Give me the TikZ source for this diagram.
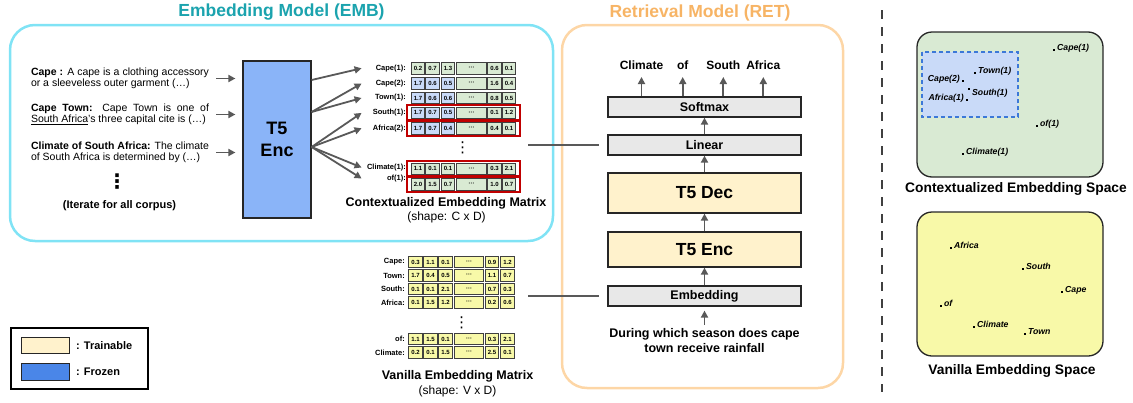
\documentclass[tikz,border=0pt]{standalone}
\usepackage{fontspec}
\setmainfont{Liberation Sans}
\newfontfamily\symfont{DejaVu Sans}
\usetikzlibrary{arrows.meta}
\newcommand{\cw}{13.5pt}
\newcommand{\dw}{29.5pt}
\definecolor{embcyan}{HTML}{80E3F5}
\definecolor{embteal}{HTML}{1BA3AE}
\definecolor{retorange}{HTML}{F7B465}
\definecolor{retpeach}{HTML}{FDD6A6}
\definecolor{trainyellow}{HTML}{FFF2CC}
\definecolor{frozenblue}{HTML}{4A86E8}
\definecolor{encblue}{HTML}{8AB4F8}
\definecolor{ctxgreen}{HTML}{D9EAD3}
\definecolor{ctxblue}{HTML}{C9DAF8}
\definecolor{vanyellow}{HTML}{F8F9A8}
\definecolor{layergray}{HTML}{E8E8E8}
\definecolor{arrowgray}{HTML}{595959}
\definecolor{boxred}{HTML}{C00000}
\definecolor{areablue}{HTML}{3C78D8}

\begin{document}
\begin{tikzpicture}[x=1pt, y=-1pt,
    panel/.style={rounded corners=25pt, line width=2.5pt},
    heading/.style={font=\bfseries\fontsize{17.5}{20}\selectfont},
    desc/.style={text width=178pt, align=justify, inner sep=0pt, font=\fontsize{10.5}{11.5}\selectfont},
    arr/.style={draw=arrowgray, line width=1.8pt, -{Triangle[length=7pt, width=7pt]}},
    tolayer/.style={draw=arrowgray, line width=1.5pt, shorten >=8pt},
    frozen/.style={draw=black!85, line width=1.2pt, fill=encblue, minimum width=68pt, minimum height=157pt, align=center, font=\bfseries\fontsize{18}{22}\selectfont},
    glayer/.style={draw=black!85, line width=1.2pt, fill=layergray, minimum width=193pt, minimum height=20pt, inner sep=0pt, font=\bfseries\fontsize{12.5}{14}\selectfont},
    tlayer/.style={glayer, fill=trainyellow, font=\bfseries\fontsize{17.5}{20}\selectfont},
    mlabel/.style={anchor=east, text width=44pt, align=right, inner sep=0pt, font=\bfseries\fontsize{7.5}{9}\selectfont},
    cell/.style={draw=black!75, line width=0.6pt, minimum width=\cw, minimum height=11.5pt, inner sep=0pt, font=\bfseries\fontsize{6}{7}\selectfont},
    gcell/.style={cell, fill=ctxgreen},
    bcell/.style={cell, fill=ctxblue},
    ycell/.style={cell, fill=vanyellow},
    dotcell/.style={minimum width=\dw},
    redbox/.style={draw=boxred, line width=2pt},
    vdots/.style={inner sep=0pt, font=\symfont\fontsize{15}{15}\selectfont},
    mcaption/.style={font=\bfseries\fontsize{12.5}{14}\selectfont},
    mshape/.style={font=\fontsize{12}{14}\selectfont},
    outword/.style={anchor=base, inner sep=0pt, font=\bfseries\fontsize{12}{14}\selectfont},
    espace/.style={draw=black!85, line width=1.3pt, rounded corners=15pt},
    dotpt/.style={fill=black, inner sep=0pt, minimum size=2.5pt},
    ptlabel/.style={inner sep=0pt, font=\bfseries\itshape\fontsize{8.7}{10}\selectfont},
    label distance=1.5pt,
    keytxt/.style={anchor=west, inner sep=0pt, font=\bfseries\fontsize{11}{13}\selectfont}]
    \useasboundingbox (0,0) rectangle (1133,402);

    % Frames
    \draw[panel, draw=embcyan] (10,25) rectangle (553,241);
    \draw[panel, draw=retpeach] (562,25) rectangle (843,388);
    \node[heading, text=embteal] (emb-title) at (281.5,12.5) {Embedding Model (EMB)};
    \node[heading, text=retorange] (ret-title) at (700,12.5) {Retrieval Model (RET)};

    % Corpus
    \node[desc] (desc-cape) at (120,78.5) {\textbf{Cape :} A cape is a clothing accessory\linebreak or a sleeveless outer garment (…)};
    \node[desc] (desc-town) at (120,114.5) {\textbf{Cape Town:} Cape Town is one of\linebreak \underline{South Africa}'s three capital cite is (…)};
    \node[desc] (desc-climate) at (120,152.5) {\textbf{Climate of South Africa:} The climate\linebreak of South Africa is determined by (…)};
    \node[vdots, font=\symfont\bfseries\fontsize{20}{20}\selectfont] (desc-more) at (117,181.5) {⋮};
    \node[font=\bfseries\fontsize{11}{13}\selectfont] (desc-iter) at (119.5,206) {(Iterate for all corpus)};

    \node[frozen] (emb-enc) at (277,139.5) {T5\\Enc};
    \draw[arr, shorten <=7pt, shorten >=7pt] (desc-cape.east) -- (desc-cape.east -| emb-enc.west);
    \draw[arr, shorten <=7pt, shorten >=7pt] (desc-town.east) -- (desc-town.east -| emb-enc.west);
    \draw[arr, shorten <=7pt, shorten >=7pt] (desc-climate.east) -- (desc-climate.east -| emb-enc.west);

    % Contextualized embedding matrix
    \node[mlabel] (ctx-lab-1) at (406,68.3) {Cape(1):};
    \node[gcell] (ctx-1-1) at (418,68.3) {0.2};
    \node[gcell] (ctx-1-2) at (432.5,68.3) {0.7};
    \node[gcell] (ctx-1-3) at (448,68.3) {1.3};
    \node[gcell, dotcell] (ctx-1-4) at (471.5,68.3) {···};
    \node[gcell] (ctx-1-5) at (494.5,68.3) {0.6};
    \node[gcell] (ctx-1-6) at (509,68.3) {0.1};

    \node[mlabel] (ctx-lab-2) at (406,83.5) {Cape(2):};
    \node[bcell] (ctx-2-1) at (418,83.5) {1.7};
    \node[bcell] (ctx-2-2) at (432.5,83.5) {0.6};
    \node[bcell] (ctx-2-3) at (448,83.5) {0.5};
    \node[gcell, dotcell] (ctx-2-4) at (471.5,83.5) {···};
    \node[gcell] (ctx-2-5) at (494.5,83.5) {1.6};
    \node[gcell] (ctx-2-6) at (509,83.5) {0.4};

    \node[mlabel] (ctx-lab-3) at (406,98) {Town(1):};
    \node[bcell] (ctx-3-1) at (418,98) {1.7};
    \node[bcell] (ctx-3-2) at (432.5,98) {0.6};
    \node[bcell] (ctx-3-3) at (448,98) {0.6};
    \node[gcell, dotcell] (ctx-3-4) at (471.5,98) {···};
    \node[gcell] (ctx-3-5) at (494.5,98) {0.8};
    \node[gcell] (ctx-3-6) at (509,98) {0.5};

    \node[mlabel] (ctx-lab-4) at (406,112.9) {South(1):};
    \node[bcell] (ctx-4-1) at (418,112.9) {1.7};
    \node[bcell] (ctx-4-2) at (432.5,112.9) {0.7};
    \node[bcell] (ctx-4-3) at (448,112.9) {0.5};
    \node[gcell, dotcell] (ctx-4-4) at (471.5,112.9) {···};
    \node[gcell] (ctx-4-5) at (494.5,112.9) {0.1};
    \node[gcell] (ctx-4-6) at (509,112.9) {1.2};

    \node[mlabel] (ctx-lab-5) at (406,128.3) {Africa(2):};
    \node[bcell] (ctx-5-1) at (418,128.3) {1.7};
    \node[bcell] (ctx-5-2) at (432.5,128.3) {0.7};
    \node[bcell] (ctx-5-3) at (448,128.3) {0.4};
    \node[gcell, dotcell] (ctx-5-4) at (471.5,128.3) {···};
    \node[gcell] (ctx-5-5) at (494.5,128.3) {0.4};
    \node[gcell] (ctx-5-6) at (509,128.3) {0.1};

    \node[vdots] (ctx-more) at (462.7,147.5) {⋮};

    \node[mlabel] (ctx-lab-6) at (406,167.5) {Climate(1):};
    \node[gcell] (ctx-6-1) at (418,168.9) {1.1};
    \node[gcell] (ctx-6-2) at (432.5,168.9) {0.1};
    \node[gcell] (ctx-6-3) at (448,168.9) {0.1};
    \node[gcell, dotcell] (ctx-6-4) at (471.5,168.9) {···};
    \node[gcell] (ctx-6-5) at (494.5,168.9) {0.3};
    \node[gcell] (ctx-6-6) at (509,168.9) {2.1};

    \node[mlabel] (ctx-lab-7) at (406,178.5) {of(1):};
    \node[gcell] (ctx-7-1) at (418,184.2) {2.0};
    \node[gcell] (ctx-7-2) at (432.5,184.2) {1.5};
    \node[gcell] (ctx-7-3) at (448,184.2) {0.7};
    \node[gcell, dotcell] (ctx-7-4) at (471.5,184.2) {···};
    \node[gcell] (ctx-7-5) at (494.5,184.2) {1.0};
    \node[gcell] (ctx-7-6) at (509,184.2) {0.7};

    \draw[redbox] ([xshift=-3.5pt,yshift=2pt]ctx-4-1.north west) rectangle ([xshift=3.5pt,yshift=-2pt]ctx-4-6.south east);
    \draw[redbox] ([xshift=-3.5pt,yshift=2pt]ctx-5-1.north west) rectangle ([xshift=3.5pt,yshift=-2pt]ctx-5-6.south east);
    \draw[redbox] ([xshift=-3.5pt,yshift=2pt]ctx-6-1.north west) rectangle ([xshift=3.5pt,yshift=-2pt]ctx-6-6.south east);
    \draw[redbox] ([xshift=-3.5pt,yshift=2pt]ctx-7-1.north west) rectangle ([xshift=3.5pt,yshift=-2pt]ctx-7-6.south east);

    \node[mcaption] (ctx-title) at (446,203) {Contextualized Embedding Matrix};
    \node[mshape] (ctx-shape) at (446.5,217) {(shape: C x D)};

    \draw[arr] ([yshift=59.5pt]emb-enc.east) -- (ctx-lab-1.west);
    \draw[arr] ([yshift=27.5pt]emb-enc.east) -- (ctx-lab-2.west);
    \draw[arr] ([yshift=27.5pt]emb-enc.east) -- (ctx-lab-3.west);
    \draw[arr] ([yshift=-7.5pt]emb-enc.east) -- (ctx-lab-4.west);
    \draw[arr] ([yshift=-7.5pt]emb-enc.east) -- (ctx-lab-5.west);
    \draw[arr] ([yshift=-7.5pt]emb-enc.east) -- (ctx-lab-6.west);
    \draw[arr] ([yshift=-7.5pt]emb-enc.east) -- (ctx-lab-7.west);

    % Vanilla embedding matrix
    \node[mlabel] (van-lab-1) at (405,262) {Cape:};
    \node[ycell] (van-1-1) at (415.5,262) {0.3};
    \node[ycell] (van-1-2) at (430.5,262) {1.1};
    \node[ycell] (van-1-3) at (445.5,262) {0.1};
    \node[ycell, dotcell] (van-1-4) at (469,262) {···};
    \node[ycell] (van-1-5) at (492,262) {0.9};
    \node[ycell] (van-1-6) at (507.5,262) {1.2};

    \node[mlabel] (van-lab-2) at (405,275.5) {Town:};
    \node[ycell] (van-2-1) at (415.5,275.5) {1.7};
    \node[ycell] (van-2-2) at (430.5,275.5) {0.4};
    \node[ycell] (van-2-3) at (445.5,275.5) {0.5};
    \node[ycell, dotcell] (van-2-4) at (469,275.5) {···};
    \node[ycell] (van-2-5) at (492,275.5) {1.1};
    \node[ycell] (van-2-6) at (507.5,275.5) {0.7};

    \node[mlabel] (van-lab-3) at (405,289) {South:};
    \node[ycell] (van-3-1) at (415.5,289) {0.1};
    \node[ycell] (van-3-2) at (430.5,289) {0.1};
    \node[ycell] (van-3-3) at (445.5,289) {2.1};
    \node[ycell, dotcell] (van-3-4) at (469,289) {···};
    \node[ycell] (van-3-5) at (492,289) {0.7};
    \node[ycell] (van-3-6) at (507.5,289) {0.3};

    \node[mlabel] (van-lab-4) at (405,302.5) {Africa:};
    \node[ycell] (van-4-1) at (415.5,302.5) {0.1};
    \node[ycell] (van-4-2) at (430.5,302.5) {1.5};
    \node[ycell] (van-4-3) at (445.5,302.5) {1.2};
    \node[ycell, dotcell] (van-4-4) at (469,302.5) {···};
    \node[ycell] (van-4-5) at (492,302.5) {0.2};
    \node[ycell] (van-4-6) at (507.5,302.5) {0.6};

    \node[vdots] (van-more) at (461.7,323) {⋮};

    \node[mlabel] (van-lab-5) at (405,339) {of:};
    \node[ycell] (van-5-1) at (415.5,339) {1.1};
    \node[ycell] (van-5-2) at (430.5,339) {1.5};
    \node[ycell] (van-5-3) at (445.5,339) {0.1};
    \node[ycell, dotcell] (van-5-4) at (469,339) {···};
    \node[ycell] (van-5-5) at (492,339) {0.3};
    \node[ycell] (van-5-6) at (507.5,339) {2.1};

    \node[mlabel] (van-lab-6) at (405,352.5) {Climate:};
    \node[ycell] (van-6-1) at (415.5,352.5) {0.2};
    \node[ycell] (van-6-2) at (430.5,352.5) {0.1};
    \node[ycell] (van-6-3) at (445.5,352.5) {1.5};
    \node[ycell, dotcell] (van-6-4) at (469,352.5) {···};
    \node[ycell] (van-6-5) at (492,352.5) {2.5};
    \node[ycell] (van-6-6) at (507.5,352.5) {0.1};

    \node[mcaption] (van-title) at (457.5,376) {Vanilla Embedding Matrix};
    \node[mshape] (van-shape) at (457.5,391.5) {(shape: V x D)};

    % Retrieval model
    \node[glayer] (ret-softmax) at (704.5,107) {Softmax};
    \node[glayer] (ret-linear) at (704.5,145) {Linear};
    \node[tlayer, minimum height=40pt] (ret-dec) at (704.5,193) {T5 Dec};
    \node[tlayer, minimum height=35pt] (ret-enc) at (704.5,249.5) {T5 Enc};
    \node[glayer] (ret-emb) at (704.5,296) {Embedding};
    \node[align=center, font=\bfseries\fontsize{12.5}{15}\selectfont] (ret-input) at (704.5,340.5) {During which season does cape\\town receive rainfall};

    \draw[arr, shorten >=4pt] (ret-input) -- (ret-emb);
    \draw[arr] (ret-emb) -- (ret-enc);
    \draw[arr] (ret-enc) -- (ret-dec);
    \draw[arr] (ret-dec) -- (ret-linear);
    \draw[arr] (ret-linear) -- (ret-softmax);

    \node[outword] (out-climate) at (641.5,69) {Climate};
    \node[outword] (out-of) at (682.7,69) {of};
    \node[outword] (out-south) at (723.3,69) {South};
    \node[outword] (out-africa) at (763.3,69) {Africa};
    \draw[arr, shorten >=8pt] (out-climate |- ret-softmax.north) -- (out-climate.base);
    \draw[arr, shorten >=8pt] (out-of |- ret-softmax.north) -- (out-of.base);
    \draw[arr, shorten >=8pt] (out-south |- ret-softmax.north) -- (out-south.base);
    \draw[arr, shorten >=8pt] (out-africa |- ret-softmax.north) -- (out-africa.base);

    \coordinate (ctx-out) at (528,145);
    \coordinate (van-out) at (528,296);
    \draw[tolayer] (ctx-out) -- (ret-linear.west);
    \draw[tolayer] (van-out) -- (ret-emb.west);

    % Legend
    \node[draw, line width=1.5pt, minimum width=137pt, minimum height=61pt, anchor=north west] (legend) at (10,327) {};
    \node[draw=black!85, line width=1pt, fill=trainyellow, minimum width=48pt, minimum height=16pt, anchor=north west] (key-train) at (21,337) {};
    \node[draw=black!85, line width=1pt, fill=frozenblue, minimum width=48pt, minimum height=17pt, anchor=north west] (key-frozen) at (21,363) {};
    \node[keytxt] (key-train-txt) at ([xshift=6pt]key-train.east) {: Trainable};
    \node[keytxt] (key-frozen-txt) at ([xshift=6pt]key-frozen.east) {: Frozen};

    % Divider
    \draw[black!75, line width=2.5pt, dash pattern=on 9pt off 8pt] (882,10) -- (882,392);

    % Contextualized embedding space
    \draw[espace, fill=ctxgreen] (917,32) rectangle (1103,177);
    \draw[areablue, line width=1.2pt, dash pattern=on 4pt off 3pt, fill=ctxblue] (922,52) rectangle (1018,117);
    \node[dotpt, label={[ptlabel, anchor=base west]east:Cape(1)}] (cs-cape1) at (1054,50) {};
    \node[dotpt, label={[ptlabel, anchor=base west]east:Town(1)}] (cs-town1) at (975,73) {};
    \node[dotpt, label={[ptlabel, anchor=base east]west:Cape(2)}] (cs-cape2) at (963,81) {};
    \node[dotpt, label={[ptlabel, anchor=west, yshift=-4pt]east:South(1)}] (cs-south1) at (969,89) {};
    \node[dotpt, label={[ptlabel, anchor=base east]west:Africa(1)}] (cs-africa1) at (967,100) {};
    \node[dotpt, label={[ptlabel, anchor=base west]east:of(1)}] (cs-of1) at (1037,126) {};
    \node[dotpt, label={[ptlabel, anchor=base west]east:Climate(1)}] (cs-climate1) at (963,154) {};
    \node[font=\bfseries\fontsize{13.8}{16}\selectfont] (cs-title) at (1016,189) {Contextualized Embedding Space};

    % Vanilla embedding space
    \draw[espace, fill=vanyellow] (917,212) rectangle (1103,356);
    \node[dotpt, label={[ptlabel, anchor=base west]east:Africa}] (vs-africa) at (951,248) {};
    \node[dotpt, label={[ptlabel, anchor=base west]east:South}] (vs-south) at (1023,269) {};
    \node[dotpt, label={[ptlabel, anchor=base west]east:Cape}] (vs-cape) at (1062,292) {};
    \node[dotpt, label={[ptlabel, anchor=base west]east:of}] (vs-of) at (941,306) {};
    \node[dotpt, label={[ptlabel, anchor=base west]east:Climate}] (vs-climate) at (974,327) {};
    \node[dotpt, label={[ptlabel, anchor=base west]east:Town}] (vs-town) at (1025,334) {};
    \node[font=\bfseries\fontsize{13.8}{16}\selectfont] (vs-title) at (1012,371) {Vanilla Embedding Space};

\end{tikzpicture}
\end{document}
